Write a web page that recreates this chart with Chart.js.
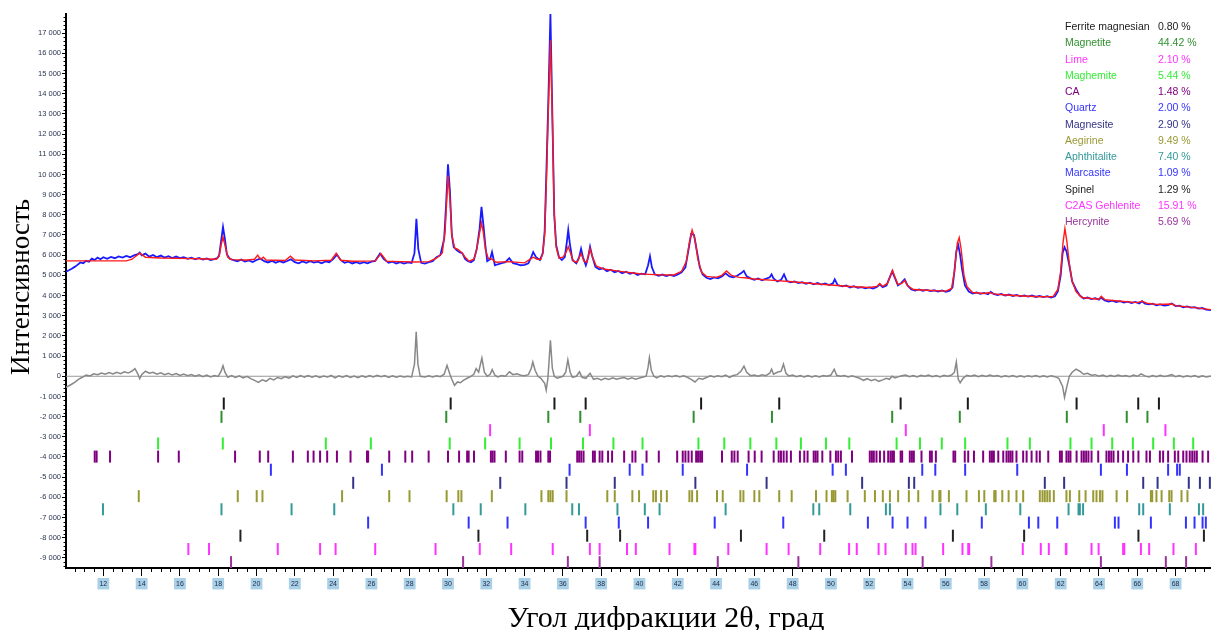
<!DOCTYPE html>
<html lang="ru">
<head>
<meta charset="utf-8">
<title>Дифрактограмма</title>
<script src="https://cdn.jsdelivr.net/npm/chart.js@4.4.1/dist/chart.umd.min.js"></script>
<style>
  body { margin: 0; background: #fff; }
  #wrap { position: relative; width: 1211px; height: 630px; }
  #phases { position: absolute; left: 1065px; top: 18px; font: 10.5px "Liberation Sans", Arial, sans-serif; }
  #phases div { position: relative; height: 16.25px; line-height: 16.25px; white-space: nowrap; }
  #phases .pct { position: absolute; left: 93px; }
</style>
</head>
<body>
<div id="wrap">
  <canvas id="xrd" width="1211" height="630"></canvas>
  <div id="phases"></div>
</div>
<script>
'use strict';

let phaseNames = ['Ferrite magnesian', 'Magnetite', 'Lime', 'Maghemite', 'CA', 'Quartz', 'Magnesite',
  'Aegirine', 'Aphthitalite', 'Marcasite', 'Spinel', 'C2AS Gehlenite', 'Hercynite'];
let phaseShares = ['0.80 %', '44.42 %', '2.10 %', '5.44 %', '1.48 %', '2.00 %', '2.90 %',
  '9.49 %', '7.40 %', '1.09 %', '1.29 %', '15.91 %', '5.69 %'];
let phaseColors = ['#1a1a1a', '#2f8f2f', '#ff33ff', '#33ee33', '#800080', '#3333ff', '#333388',
  '#999933', '#339999', '#3333ff', '#222222', '#ff33ff', '#993399'];
// offset of each reflection row under the pattern
let phaseLevels = [-1350, -2010, -2670, -3330, -3980, -4630, -5280, -5940, -6590, -7250, -7900, -8560, -9210];

let ferriteTicks = [18.29, 30.14, 35.56, 37.19, 43.22, 47.3, 53.64, 57.15, 62.83, 66.05, 67.13];
let magnetiteTicks = [18.17, 29.91, 35.24, 36.91, 42.83, 46.92, 53.2, 56.73, 62.32, 65.45, 66.53];
let limeTicks = [32.2, 37.41, 53.91, 64.25, 67.47];
let maghemiteTicks = [14.86, 18.24, 23.62, 25.97, 30.09, 31.94, 33.74, 35.38, 37.05, 38.64, 40.16, 43.08, 44.43,
  45.79, 47.15, 48.43, 49.74, 50.96, 53.43, 54.65, 55.79, 57.01, 59.22, 60.39, 62.51, 63.61, 64.69, 65.77,
  66.83, 67.91, 68.92];
let caTicks = [11.55, 11.65, 12.35, 14.86, 15.94, 18.88, 20.17, 20.61, 21.9, 22.68, 22.98, 23.32, 23.69, 24.2,
  24.91, 25.77, 25.83, 26.93, 27.77, 28.13, 28.99, 30.0, 30.58, 31.0, 31.08, 31.36, 32.24, 32.33, 32.43, 33.02,
  33.74, 33.88, 34.6, 34.7, 34.83, 35.24, 35.33, 36.75, 36.85, 36.96, 37.08, 37.57, 37.67, 37.92, 38.06, 38.36,
  38.57, 39.2, 39.63, 39.79, 40.37, 41.01, 41.97, 42.26, 42.4, 42.56, 42.73, 42.96, 43.06, 43.17, 43.27, 44.31,
  44.82, 44.96, 45.13, 45.7, 46.02, 46.38, 47.01, 47.27, 47.39, 47.53, 47.69, 47.91, 48.38, 48.61, 48.78, 49.1,
  49.2, 49.3, 49.55, 49.97, 50.26, 50.38, 50.52, 51.1, 52.03, 52.14, 52.24, 52.38, 52.56, 52.78, 52.99, 53.11,
  53.2, 53.29, 53.64, 53.72, 54.12, 54.23, 54.33, 54.73, 55.17, 55.27, 55.48, 56.4, 56.49, 56.99, 57.17, 57.47,
  57.95, 58.3, 58.41, 58.51, 58.74, 59.0, 59.17, 59.28, 59.38, 59.48, 59.69, 60.04, 60.22, 60.48, 60.74, 60.91,
  61.35, 61.96, 62.06, 62.3, 62.41, 62.51, 62.83, 63.09, 63.21, 63.33, 63.45, 63.61, 63.96, 64.39, 64.52, 64.64,
  64.76, 65.0, 65.26, 65.52, 65.79, 66.06, 66.48, 66.66, 67.18, 67.35, 67.61, 67.96, 68.14, 68.4, 68.57, 68.74,
  68.87, 68.99, 69.11, 69.41, 69.7];
let quartzTicks = [20.75, 26.55, 36.35, 39.49, 40.16, 42.26, 45.62, 50.09, 50.78, 54.77, 55.45, 57.01, 59.73,
  64.1, 65.46, 67.61, 68.08, 68.22];
let magnesiteTicks = [25.05, 32.73, 36.19, 38.71, 42.92, 46.64, 51.63, 54.07, 54.35, 61.17, 62.18, 66.31, 67.06,
  68.69, 69.27, 69.79];
let aegirineTicks = [13.85, 19.02, 20.01, 20.31, 24.47, 26.93, 27.99, 29.93, 30.54, 30.7, 32.29, 34.88, 35.24,
  35.35, 35.47, 36.19, 38.32, 38.71, 39.63, 39.98, 40.72, 40.86, 41.13, 41.43, 42.61, 42.75, 43.01, 44.05, 44.35,
  45.27, 45.43, 46.0, 46.26, 47.3, 47.95, 49.22, 49.77, 50.05, 50.14, 50.23, 50.87, 51.77, 52.3, 52.71, 53.08,
  53.51, 54.07, 54.56, 55.31, 55.66, 55.72, 56.16, 57.08, 57.73, 58.01, 58.53, 58.6, 58.95, 59.28, 59.69, 60.04,
  60.91, 61.05, 61.17, 61.3, 61.43, 61.64, 62.3, 62.48, 62.97, 63.3, 63.7, 63.87, 64.05, 64.18, 64.92, 65.47,
  66.71, 66.78, 67.0, 67.27, 67.67, 67.79, 68.31, 68.62];
let aphthitaliteTicks = [11.98, 18.17, 21.83, 24.06, 30.28, 31.71, 34.04, 36.49, 36.84, 38.85, 40.28, 41.05, 44.5,
  49.08, 49.39, 51.01, 52.87, 53.08, 55.72, 56.6, 58.09, 59.89, 62.41, 62.93, 63.0, 63.17, 66.1, 66.31, 67.7,
  69.22, 69.44];
let marcasiteTicks = [25.83, 31.08, 33.11, 37.19, 38.92, 40.45, 43.93, 47.51, 51.93, 53.22, 54.0, 54.94, 57.88,
  60.34, 60.83, 61.82, 64.83, 65.02, 66.71, 68.54, 68.99, 69.41, 69.58];
let spinelTicks = [19.16, 31.59, 37.27, 38.99, 45.3, 49.65, 56.37, 60.09, 66.06, 69.48];
let gehleniteTicks = [16.44, 17.52, 21.11, 23.32, 24.13, 26.2, 29.35, 31.66, 33.3, 35.47, 37.41, 37.92, 39.35,
  39.81, 41.57, 42.87, 42.92, 44.64, 46.64, 47.79, 49.44, 50.95, 51.35, 52.49, 52.85, 53.91, 54.26, 54.42, 55.86,
  56.87, 57.17, 57.22, 60.02, 60.96, 61.38, 62.27, 62.3, 63.61, 63.98, 65.26, 65.32, 66.19, 66.62, 67.89, 69.06];
let hercyniteTicks = [18.67, 30.79, 36.26, 37.92, 44.09, 48.3, 54.79, 58.38, 64.1, 67.49, 68.55];

let phaseTicks = [ferriteTicks, magnetiteTicks, limeTicks, maghemiteTicks, caTicks, quartzTicks, magnesiteTicks,
  aegirineTicks, aphthitaliteTicks, marcasiteTicks, spinelTicks, gehleniteTicks, hercyniteTicks];

// measured pattern [2theta, counts]
let observed = [
  [10.05,5180],[10.2,5250],[10.35,5330],[10.5,5420],[10.65,5520],[10.8,5640],[10.95,5600],[11.1,5720],[11.25,5680],
  [11.4,5830],[11.55,5760],[11.7,5880],[11.85,5800],[12.0,5900],[12.2,5820],[12.4,5910],[12.6,5850],[12.8,5940],
  [13.0,5880],[13.2,5960],[13.4,5900],[13.6,5990],[13.8,6050],[13.9,6130],[14.0,5990],[14.2,6080],[14.4,5930],
  [14.6,6010],[14.8,5900],[15.0,5980],[15.2,5880],[15.4,5950],[15.6,5860],[15.8,5930],[16.0,5850],[16.2,5900],
  [16.4,5820],[16.6,5880],[16.8,5800],[17.0,5860],[17.2,5780],[17.4,5840],[17.6,5760],[17.8,5800],[17.95,5850],
  [18.05,6000],[18.15,6700],[18.25,7400],[18.35,6800],[18.45,6050],[18.6,5820],[18.8,5760],[19.0,5700],[19.2,5780],
  [19.4,5680],[19.6,5740],[19.8,5660],[20.0,5760],[20.2,5830],[20.4,5700],[20.6,5640],[20.8,5720],[21.0,5620],
  [21.2,5700],[21.4,5640],[21.6,5710],[21.8,5800],[22.0,5650],[22.2,5600],[22.4,5690],[22.6,5620],[22.8,5700],
  [23.0,5630],[23.2,5680],[23.4,5600],[23.6,5690],[23.8,5650],[24.0,5800],[24.2,6020],[24.4,5750],[24.6,5620],
  [24.8,5680],[25.0,5590],[25.2,5660],[25.4,5580],[25.6,5650],[25.8,5600],[26.0,5680],[26.2,5720],[26.45,6080],
  [26.65,5800],[26.9,5620],[27.1,5680],[27.3,5590],[27.5,5650],[27.7,5580],[27.9,5640],[28.1,5610],[28.25,6100],
  [28.35,7800],[28.45,6300],[28.6,5620],[28.8,5580],[29.0,5650],[29.2,5700],[29.4,5900],[29.6,6000],[29.8,6800],
  [29.9,8500],[30.0,10500],[30.1,9200],[30.2,7000],[30.3,6400],[30.45,6250],[30.6,6150],[30.75,6100],[30.9,5800],
  [31.05,5700],[31.2,5650],[31.35,5750],[31.5,6300],[31.65,7300],[31.75,8400],[31.85,7500],[31.95,6500],[32.05,5700],
  [32.2,5800],[32.3,6150],[32.45,5500],[32.6,5550],[32.8,5600],[33.0,5650],[33.2,5850],[33.4,5600],[33.6,5560],
  [33.8,5500],[34.0,5520],[34.2,5600],[34.35,5900],[34.45,6150],[34.6,5900],[34.8,5760],[34.95,6100],[35.05,7200],
  [35.15,10500],[35.25,14000],[35.35,17950],[35.45,13000],[35.55,8000],[35.65,6500],[35.8,5900],[35.95,5760],
  [36.1,5900],[36.2,6600],[36.28,7250],[36.36,6600],[36.5,5760],[36.7,5600],[36.85,5900],[36.95,6320],[37.05,5900],
  [37.2,5500],[37.32,5900],[37.42,6420],[37.52,6000],[37.7,5420],[37.9,5300],[38.1,5350],[38.3,5200],[38.5,5280],
  [38.7,5150],[38.9,5220],[39.1,5100],[39.3,5180],[39.5,5080],[39.7,5130],[39.9,5020],[40.1,5080],[40.3,5050],
  [40.45,5500],[40.55,5950],[40.65,5400],[40.8,5050],[41.0,4980],[41.2,5040],[41.4,4960],[41.6,5020],[41.8,4970],
  [42.0,5050],[42.2,5150],[42.4,5400],[42.55,6200],[42.7,7050],[42.85,7000],[43.0,6200],[43.15,5400],[43.3,5050],
  [43.5,4880],[43.7,4820],[43.9,4900],[44.1,4850],[44.3,4950],[44.5,5100],[44.7,4950],[44.9,4900],[45.1,4980],
  [45.3,5100],[45.45,5220],[45.6,4950],[45.8,4850],[46.0,4780],[46.2,4850],[46.4,4760],[46.6,4830],[46.8,4900],
  [46.9,5050],[47.0,4850],[47.2,4700],[47.4,4780],[47.55,5050],[47.7,4720],[47.9,4650],[48.1,4700],[48.3,4620],
  [48.5,4660],[48.7,4580],[48.9,4640],[49.1,4560],[49.3,4620],[49.5,4540],[49.7,4600],[49.9,4520],[50.1,4600],
  [50.2,4800],[50.35,4520],[50.6,4460],[50.8,4500],[51.0,4400],[51.2,4460],[51.4,4380],[51.6,4420],[51.8,4360],
  [52.0,4400],[52.2,4350],[52.4,4420],[52.55,4560],[52.7,4420],[52.9,4500],[53.05,4850],[53.2,5200],[53.35,4850],
  [53.5,4500],[53.65,4600],[53.85,4800],[54.0,4500],[54.2,4300],[54.4,4250],[54.6,4300],[54.8,4240],[55.0,4280],
  [55.2,4220],[55.4,4260],[55.6,4200],[55.8,4250],[56.0,4180],[56.2,4240],[56.35,4400],[56.45,5200],[56.55,6200],
  [56.65,6500],[56.75,6000],[56.85,5300],[57.0,4500],[57.2,4200],[57.4,4100],[57.6,4150],[57.8,4080],[58.0,4130],
  [58.2,4060],[58.35,4180],[58.5,4080],[58.7,4020],[58.9,4080],[59.1,4000],[59.3,4050],[59.5,3980],[59.7,4030],
  [59.9,3960],[60.1,4010],[60.3,3950],[60.5,4000],[60.7,3930],[60.9,3980],[61.1,3920],[61.3,3970],[61.5,3900],
  [61.7,3960],[61.85,4200],[62.0,5000],[62.1,6100],[62.2,6400],[62.3,6200],[62.45,5500],[62.6,4700],[62.8,4300],
  [63.0,4000],[63.2,3850],[63.4,3900],[63.6,3820],[63.8,3870],[64.0,3800],[64.1,3900],[64.3,3760],[64.5,3700],
  [64.7,3750],[64.9,3680],[65.1,3720],[65.3,3650],[65.5,3700],[65.7,3630],[65.9,3680],[66.1,3610],[66.25,3720],
  [66.4,3600],[66.6,3560],[66.8,3600],[67.0,3520],[67.2,3560],[67.4,3500],[67.6,3530],[67.8,3600],[68.0,3480],
  [68.2,3500],[68.4,3420],[68.6,3460],[68.8,3400],[69.0,3420],[69.2,3350],[69.4,3380],[69.6,3300],[69.85,3280]
];

// calculated (fitted) pattern
let calculated = [
  [10.05,5720],[13.2,5720],[13.5,5800],[13.9,6100],[14.2,5900],[15.0,5860],[16.0,5840],[17.0,5820],[17.9,5800],
  [18.05,5950],[18.15,6500],[18.25,6900],[18.35,6500],[18.5,5900],[18.7,5780],[19.5,5760],[19.9,5800],[20.06,6000],
  [20.2,5800],[20.36,5900],[20.5,5760],[21.5,5740],[21.77,5950],[22.0,5760],[23.0,5720],[23.9,5750],[24.16,6100],
  [24.4,5750],[25.0,5700],[26.2,5720],[26.5,6080],[26.8,5700],[27.5,5680],[28.3,5660],[29.0,5680],[29.4,5850],
  [29.7,6100],[29.85,7200],[30.0,9950],[30.1,8800],[30.2,7000],[30.35,6350],[30.5,6300],[30.7,6150],[30.9,5900],
  [31.1,5700],[31.35,5800],[31.5,6300],[31.65,7100],[31.75,7600],[31.85,7100],[31.95,6300],[32.1,5850],[32.3,5800],
  [32.5,5650],[33.2,5680],[34.0,5620],[34.3,5800],[34.45,5900],[34.65,5800],[34.85,5800],[34.95,6100],[35.05,7000],
  [35.15,10000],[35.25,13500],[35.35,16650],[35.45,12800],[35.55,8000],[35.65,6400],[35.8,5850],[36.0,5900],
  [36.15,6100],[36.28,6430],[36.4,6100],[36.55,5700],[36.75,5650],[36.95,6080],[37.1,5700],[37.25,5650],[37.42,6330],
  [37.55,5900],[37.75,5450],[38.2,5300],[39.0,5200],[40.0,5080],[40.5,5050],[41.0,5030],[41.8,5020],[42.2,5200],
  [42.45,5700],[42.6,6600],[42.75,7250],[42.9,6800],[43.05,5800],[43.25,5150],[43.5,4950],[44.0,4900],[44.3,5000],
  [44.55,5220],[44.8,5000],[45.2,4900],[45.5,4880],[46.0,4820],[47.0,4750],[48.0,4680],[49.0,4600],[50.0,4520],
  [51.0,4450],[52.0,4400],[52.4,4450],[52.55,4600],[52.7,4450],[52.95,4600],[53.1,4950],[53.22,5250],[53.35,4900],
  [53.5,4550],[53.7,4600],[53.85,4750],[54.0,4500],[54.3,4300],[55.0,4260],[56.0,4220],[56.3,4350],[56.45,5200],
  [56.6,6600],[56.7,6870],[56.8,6300],[56.95,5000],[57.1,4450],[57.4,4150],[58.0,4100],[58.3,4150],[58.5,4080],
  [59.0,4040],[60.0,3980],[61.0,3940],[61.6,3950],[61.85,4300],[62.0,5200],[62.12,6600],[62.22,7320],[62.32,6700],
  [62.45,5600],[62.6,4700],[62.8,4200],[63.1,3900],[63.6,3850],[64.0,3820],[64.12,3960],[64.3,3800],[65.0,3730],
  [66.0,3650],[66.25,3720],[66.5,3620],[67.0,3560],[67.8,3580],[68.0,3500],[69.0,3400],[69.85,3300]
];

// observed minus calculated
let difference = [
  [10.05,-550],[10.3,-420],[10.5,-300],[10.7,-150],[10.9,-50],[11.1,60],[11.3,20],[11.5,120],[11.7,80],[11.9,160],
  [12.1,100],[12.3,180],[12.5,110],[12.7,200],[12.9,130],[13.1,220],[13.3,160],[13.5,260],[13.65,380],[13.8,120],
  [13.9,-120],[14.0,80],[14.2,250],[14.4,150],[14.6,200],[14.8,100],[15.0,170],[15.2,80],[15.4,150],[15.6,60],
  [15.8,130],[16.0,40],[16.2,110],[16.4,30],[16.6,90],[16.8,0],[17.0,70],[17.2,-20],[17.4,60],[17.6,-30],[17.8,40],
  [18.0,-10],[18.15,250],[18.25,520],[18.35,200],[18.5,-50],[18.7,30],[18.9,-60],[19.1,20],[19.3,-80],[19.5,0],
  [19.7,-120],[19.9,-200],[20.1,-300],[20.3,-180],[20.5,-250],[20.7,-100],[20.9,-180],[21.1,-60],[21.3,-120],
  [21.5,-20],[21.7,-90],[21.9,20],[22.1,-60],[22.3,40],[22.5,-40],[22.7,30],[22.9,-50],[23.1,20],[23.3,-60],[23.5,10],
  [23.7,-40],[23.9,40],[24.1,-80],[24.3,20],[24.5,-50],[24.7,30],[24.9,-60],[25.1,10],[25.3,-70],[25.5,20],[25.7,-40],
  [25.9,40],[26.1,-30],[26.3,50],[26.5,-20],[26.7,30],[26.9,-60],[27.1,20],[27.3,-50],[27.5,10],[27.7,-40],[27.9,0],
  [28.1,-30],[28.25,600],[28.34,2200],[28.43,600],[28.55,0],[28.8,-40],[29.0,20],[29.2,-30],[29.4,30],[29.6,-20],
  [29.8,100],[29.95,540],[30.1,100],[30.2,-150],[30.34,-450],[30.5,-280],[30.65,-320],[30.8,-200],[31.0,-100],
  [31.2,0],[31.35,100],[31.47,380],[31.6,200],[31.77,900],[31.9,200],[32.05,0],[32.2,100],[32.31,330],[32.45,50],
  [32.6,-30],[32.8,40],[33.0,0],[33.21,220],[33.4,80],[33.6,120],[33.8,50],[34.0,30],[34.2,80],[34.35,400],[34.43,710],
  [34.55,300],[34.7,0],[34.85,-100],[35.05,-350],[35.13,-690],[35.22,-100],[35.35,1780],[35.45,400],[35.55,0],
  [35.7,-100],[35.85,-50],[36.0,0],[36.15,200],[36.26,820],[36.38,200],[36.5,-50],[36.7,0],[36.87,220],[37.0,-50],
  [37.2,-100],[37.42,150],[37.6,-150],[37.8,-100],[38.0,-180],[38.2,-100],[38.4,-160],[38.6,-80],[38.8,-150],
  [39.0,-100],[39.2,-60],[39.4,-140],[39.6,-80],[39.8,-150],[40.0,-90],[40.2,-40],[40.35,0],[40.45,450],[40.52,920],
  [40.62,300],[40.75,0],[40.9,-80],[41.1,20],[41.3,-40],[41.5,30],[41.7,-20],[41.9,40],[42.1,-30],[42.3,20],[42.5,-50],
  [42.7,-150],[42.9,-280],[43.1,-100],[43.3,-150],[43.5,-60],[43.7,20],[43.9,-40],[44.1,30],[44.3,-20],[44.5,60],
  [44.7,-50],[44.9,40],[45.1,80],[45.3,250],[45.46,500],[45.6,200],[45.8,30],[46.0,60],[46.2,0],[46.4,70],[46.6,30],
  [46.8,150],[46.9,350],[47.0,100],[47.2,200],[47.4,250],[47.52,600],[47.65,150],[47.8,20],[48.0,60],[48.2,-20],
  [48.4,40],[48.6,-30],[48.8,30],[49.0,-40],[49.2,20],[49.4,-30],[49.6,40],[49.8,0],[50.0,60],[50.17,350],[50.3,50],
  [50.5,0],[50.7,40],[50.9,-30],[51.1,20],[51.3,-40],[51.5,-100],[51.7,-200],[51.9,-120],[52.1,-220],[52.3,-150],
  [52.5,-250],[52.7,-180],[52.9,-100],[53.05,-150],[53.2,0],[53.35,-80],[53.5,-30],[53.7,30],[53.9,60],[54.1,-20],
  [54.3,40],[54.5,-30],[54.7,50],[54.9,0],[55.1,60],[55.3,-20],[55.5,40],[55.7,-30],[55.9,50],[56.1,0],[56.3,60],
  [56.45,200],[56.55,700],[56.65,-150],[56.75,-320],[56.9,-100],[57.1,50],[57.3,0],[57.5,60],[57.7,-20],[57.9,50],
  [58.1,-10],[58.3,60],[58.5,0],[58.7,40],[58.9,-30],[59.1,30],[59.3,-20],[59.5,40],[59.7,-30],[59.9,20],[60.1,-40],
  [60.3,30],[60.5,-20],[60.7,40],[60.9,-30],[61.1,20],[61.3,-40],[61.5,30],[61.7,-20],[61.9,-100],[62.0,-300],
  [62.1,-500],[62.2,-1050],[62.3,-600],[62.45,0],[62.6,200],[62.8,350],[63.0,250],[63.2,100],[63.4,150],[63.6,50],
  [63.8,80],[64.0,0],[64.2,60],[64.4,-20],[64.6,50],[64.8,-10],[65.0,60],[65.2,0],[65.4,40],[65.6,-20],[65.8,60],
  [66.0,0],[66.2,120],[66.4,20],[66.6,-30],[66.8,40],[67.0,-20],[67.2,50],[67.4,-10],[67.6,30],[67.8,80],[68.0,-20],
  [68.2,40],[68.4,-30],[68.6,30],[68.8,-20],[69.0,40],[69.2,-40],[69.4,20],[69.6,-30],[69.85,10]
];
let zeroLine = [[10.05, 0], [69.85, 0]];

let xTickValues = [12, 14, 16, 18, 20, 22, 24, 26, 28, 30, 32, 34, 36, 38, 40, 42, 44, 46, 48, 50, 52, 54, 56, 58,
  60, 62, 64, 66, 68];
let yTickValues = [-9000, -8000, -7000, -6000, -5000, -4000, -3000, -2000, -1000, 0, 1000, 2000, 3000, 4000, 5000,
  6000, 7000, 8000, 9000, 10000, 11000, 12000, 13000, 14000, 15000, 16000, 17000];

let xTitle = 'Угол дифракции 2θ, град';
let yTitle = 'Интенсивность';

function toPoints(pairs) {
  return pairs.map(p => ({ x: p[0], y: p[1] }));
}

function spaced(v) {
  let s = Math.abs(v).toString().replace(/\B(?=(\d{3})+(?!\d))/g, ' ');
  return (v < 0 ? '-' : '') + s;
}

// legend of phases (top right)
let legendEl = document.getElementById('phases');
for (let i = 0; i < phaseNames.length; i++) {
  let row = document.createElement('div');
  row.style.color = phaseColors[i];
  let nameEl = document.createElement('span');
  nameEl.textContent = phaseNames[i];
  let pctEl = document.createElement('span');
  pctEl.className = 'pct';
  pctEl.textContent = phaseShares[i];
  row.appendChild(nameEl);
  row.appendChild(pctEl);
  legendEl.appendChild(row);
}

let datasets = [
  { data: toPoints(calculated), showLine: true, borderColor: '#ff1a1a', borderWidth: 1.4, pointRadius: 0 },
  { data: toPoints(observed), showLine: true, borderColor: '#1a1aff', borderWidth: 1.8, pointRadius: 0 },
  { data: toPoints(difference), showLine: true, borderColor: '#888888', borderWidth: 1.5, pointRadius: 0 },
  { data: toPoints(zeroLine), showLine: true, borderColor: '#999999', borderWidth: 1, pointRadius: 0 }
];
for (let i = 0; i < phaseTicks.length; i++) {
  datasets.push({
    data: phaseTicks[i].map(t => ({ x: t, y: phaseLevels[i] })),
    showLine: false,
    pointStyle: 'line',
    rotation: 90,
    pointRadius: 6,
    pointBorderWidth: 2,
    borderColor: phaseColors[i],
    backgroundColor: phaseColors[i]
  });
}

// small ticks on both axes and the two axis titles
let axisExtras = {
  id: 'axisExtras',
  afterDraw(chart) {
    let ctx = chart.ctx;
    let xs = chart.scales.x;
    let ys = chart.scales.y;
    ctx.save();
    ctx.strokeStyle = '#000';
    ctx.lineWidth = 1;
    ctx.beginPath();
    for (let v = 10.5; v < 69.9; v += 0.5) {
      if (v % 2 === 0) continue;
      let px = Math.round(xs.getPixelForValue(v)) + 0.5;
      ctx.moveTo(px, xs.top);
      ctx.lineTo(px, xs.top + 4);
    }
    for (let v = -9400; v <= 17800; v += 200) {
      if (v % 1000 === 0) continue;
      let py = Math.round(ys.getPixelForValue(v)) + 0.5;
      ctx.moveTo(ys.right, py);
      ctx.lineTo(ys.right - 2.5, py);
    }
    ctx.stroke();

    ctx.fillStyle = '#000';
    ctx.textAlign = 'center';
    ctx.textBaseline = 'alphabetic';
    ctx.font = '30px "Liberation Serif", "Times New Roman", serif';
    ctx.fillText(xTitle, 666, 627);
    ctx.translate(29, 287);
    ctx.rotate(-Math.PI / 2);
    ctx.font = '27px "Liberation Serif", "Times New Roman", serif';
    ctx.fillText(yTitle, 0, 0);
    ctx.restore();
  }
};

Chart.defaults.font.family = '"Liberation Sans", Arial, sans-serif';

let ctx = document.getElementById('xrd').getContext('2d');
let xrdChart = new Chart(ctx, {
  type: 'scatter',
  data: { datasets: datasets },
  options: {
    responsive: false,
    animation: false,
    layout: { autoPadding: false, padding: { top: 14, right: 0, left: 0, bottom: 0 } },
    plugins: { legend: { display: false }, tooltip: { enabled: false } },
    scales: {
      x: {
        type: 'linear',
        min: 10.05,
        max: 69.85,
        afterBuildTicks: s => { s.ticks = xTickValues.map(v => ({ value: v })); },
        afterFit: s => { s.height = 62; s.paddingLeft = 0; s.paddingRight = 0; },
        grid: { drawOnChartArea: false, drawTicks: true, tickLength: 8, color: '#000' },
        border: { color: '#000', width: 2 },
        ticks: {
          autoSkip: false,
          maxRotation: 0,
          padding: 4,
          color: '#1c2a4a',
          font: { size: 7 },
          showLabelBackdrop: true,
          backdropColor: '#a9d0e6',
          backdropPadding: { top: 2, bottom: 1, left: 2, right: 2 }
        }
      },
      y: {
        type: 'linear',
        min: -9500,
        max: 17950,
        afterBuildTicks: s => { s.ticks = yTickValues.map(v => ({ value: v })); },
        afterFit: s => { s.width = 66; s.paddingTop = 0; s.paddingBottom = 0; },
        grid: { drawOnChartArea: false, drawTicks: true, tickLength: 4, color: '#000' },
        border: { color: '#000', width: 2 },
        ticks: {
          autoSkip: false,
          padding: 1,
          color: '#2a3450',
          font: { size: 7.5 },
          callback: v => spaced(v)
        }
      }
    }
  },
  plugins: [axisExtras]
});
</script>
</body>
</html>
